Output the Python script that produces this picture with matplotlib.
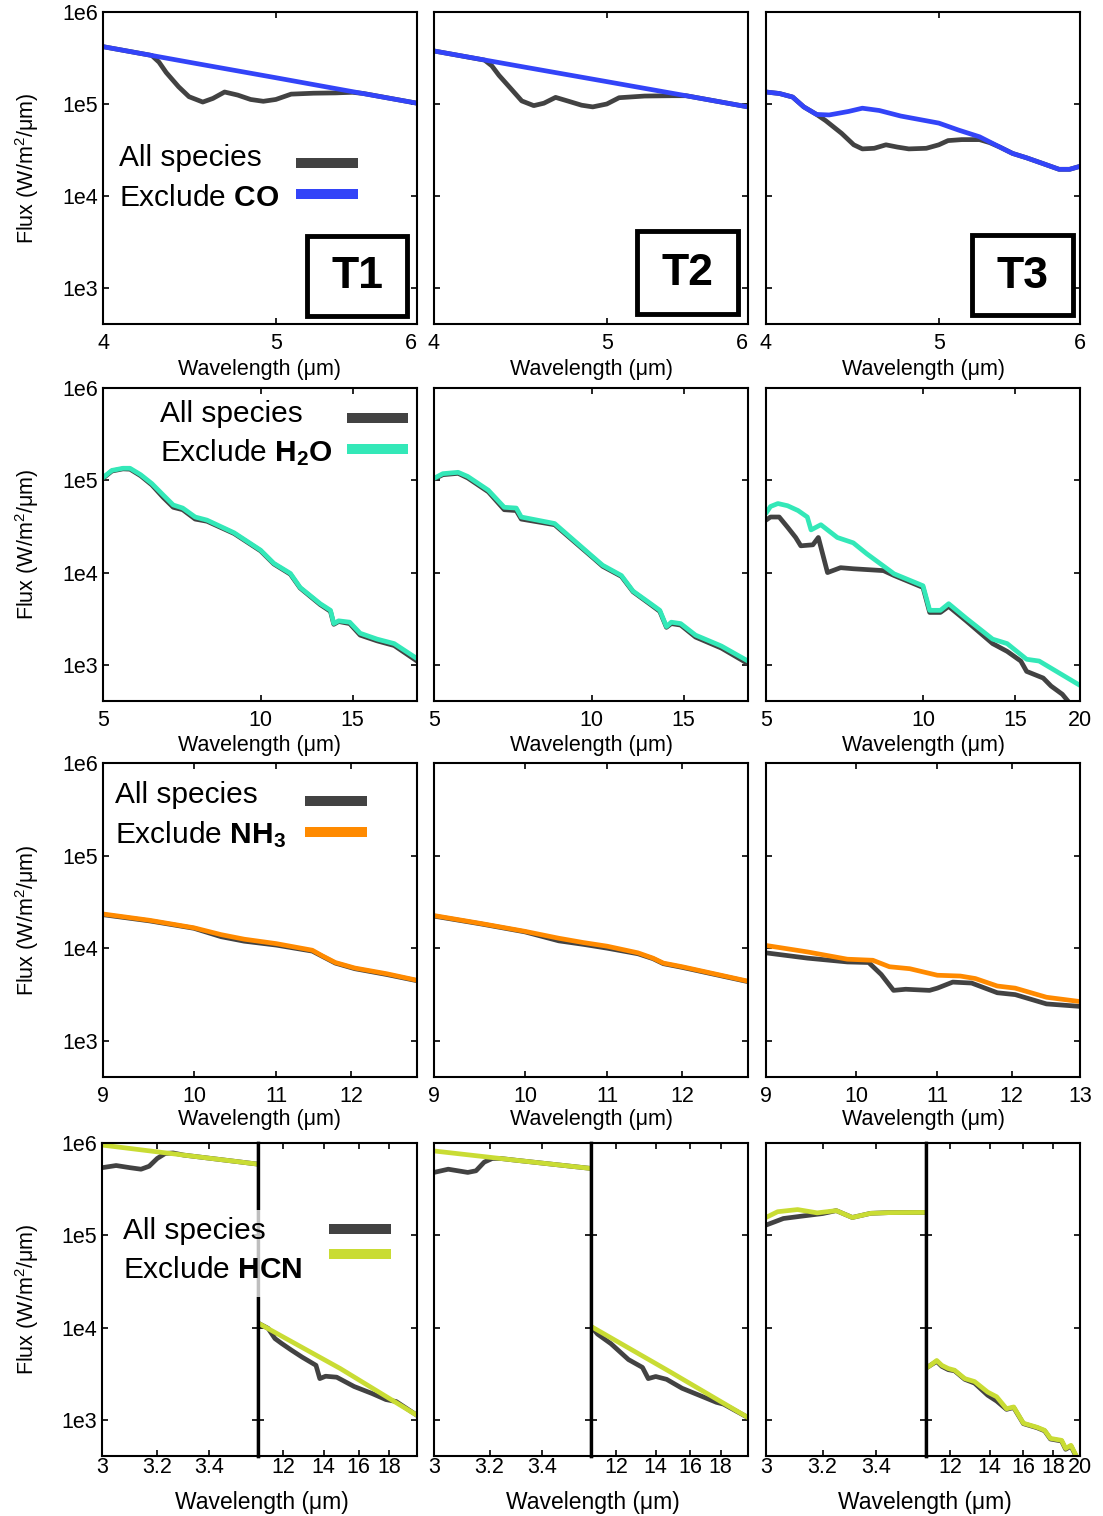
import matplotlib
matplotlib.use('Agg')
import matplotlib.pyplot as plt
from matplotlib.lines import Line2D
from matplotlib.patches import Rectangle
from matplotlib.ticker import NullLocator, FixedLocator, FixedFormatter

plt.rcParams['font.family'] = ['Liberation Sans', 'DejaVu Sans']
plt.rcParams['mathtext.fontset'] = 'custom'
plt.rcParams['mathtext.rm'] = 'Liberation Sans'
plt.rcParams['mathtext.bf'] = 'Liberation Sans:bold'
plt.rcParams['mathtext.it'] = 'Liberation Sans:italic'
plt.rcParams['mathtext.sf'] = 'Liberation Sans'

# ---------------- data ----------------
panel_names = ['T1', 'T2', 'T3']
y_ticks = [1e3, 1e4, 1e5, 1e6]
y_ticklabels = ['1e3', '1e4', '1e5', '1e6']

# Row 1 : CO, 4-6 um
co_xticks = [4, 5, 6]
co_xticklabels = ['4', '5', '6']
co1_all_wl = [4.0, 4.26, 4.3, 4.34, 4.41, 4.47, 4.55, 4.61, 4.68, 4.76, 4.84, 4.92, 5.0, 5.1, 5.25, 5.4, 5.52, 5.6, 6.0]
co1_all = [4.2e5, 3.37e5, 2.85e5, 2.2e5, 1.54e5, 1.2e5, 1.05e5, 1.15e5, 1.35e5, 1.25e5, 1.12e5, 1.07e5, 1.12e5, 1.28e5, 1.31e5, 1.32e5, 1.34e5, 1.3e5, 1.02e5]
co1_ex_wl = [4.0, 4.5, 5.0, 5.5, 6.0]
co1_ex = [4.2e5, 2.78e5, 1.93e5, 1.38e5, 1.02e5]
co2_all_wl = [4.0, 4.27, 4.31, 4.35, 4.42, 4.48, 4.55, 4.61, 4.68, 4.76, 4.84, 4.91, 5.0, 5.08, 5.25, 5.44, 5.54, 6.0]
co2_all = [3.77e5, 3.0e5, 2.6e5, 2.05e5, 1.45e5, 1.08e5, 9.6e4, 1.02e5, 1.18e5, 1.07e5, 9.7e4, 9.3e4, 1.0e5, 1.17e5, 1.22e5, 1.23e5, 1.23e5, 9.3e4]
co2_ex_wl = [4.0, 4.5, 5.0, 5.5, 6.0]
co2_ex = [3.77e5, 2.51e5, 1.75e5, 1.26e5, 9.3e4]
co3_all_wl = [4.0, 4.07, 4.14, 4.2, 4.27, 4.32, 4.41, 4.48, 4.53, 4.6, 4.67, 4.74, 4.81, 4.92, 5.0, 5.06, 5.15, 5.27, 5.34, 5.41, 5.5, 5.6, 5.72, 5.84, 5.92, 6.0]
co3_all = [1.35e5, 1.3e5, 1.19e5, 9.3e4, 7.7e4, 6.6e4, 4.8e4, 3.6e4, 3.25e4, 3.3e4, 3.6e4, 3.4e4, 3.25e4, 3.3e4, 3.6e4, 4.0e4, 4.1e4, 4.1e4, 3.8e4, 3.4e4, 2.9e4, 2.6e4, 2.25e4, 1.95e4, 1.95e4, 2.1e4]
co3_ex_wl = [4.0, 4.07, 4.14, 4.2, 4.27, 4.34, 4.45, 4.53, 4.63, 4.76, 5.0, 5.13, 5.27, 5.41, 5.5, 5.6, 5.72, 5.84, 5.92, 6.0]
co3_ex = [1.35e5, 1.3e5, 1.19e5, 9.3e4, 7.7e4, 7.6e4, 8.3e4, 9.0e4, 8.5e4, 7.4e4, 6.2e4, 5.2e4, 4.4e4, 3.4e4, 2.9e4, 2.6e4, 2.25e4, 1.95e4, 1.95e4, 2.1e4]

# Row 2 : H2O, 5-20 um
h2o_xticks_12 = [5, 10, 15]
h2o_xticklabels_12 = ['5', '10', '15']
h2o_xticks_3 = [5, 10, 15, 20]
h2o_xticklabels_3 = ['5', '10', '15', '20']
h2o1_wl = [5.0, 5.2, 5.46, 5.63, 5.9, 6.2, 6.52, 6.81, 7.1, 7.5, 7.9, 8.9, 10.0, 10.6, 11.4, 11.9, 13.0, 13.6, 13.8, 14.1, 14.8, 15.5, 16.7, 18.0, 19.9]
h2o1_ex = [1.07e5, 1.28e5, 1.35e5, 1.35e5, 1.15e5, 9.2e4, 6.9e4, 5.4e4, 5.0e4, 4.0e4, 3.7e4, 2.7e4, 1.75e4, 1.26e4, 9.8e3, 6.9e3, 4.6e3, 3.9e3, 2.8e3, 3.0e3, 2.9e3, 2.2e3, 1.9e3, 1.7e3, 1.17e3]
h2o1_all = [1.05e5, 1.26e5, 1.33e5, 1.32e5, 1.12e5, 8.9e4, 6.5e4, 5.1e4, 4.8e4, 3.8e4, 3.6e4, 2.65e4, 1.72e4, 1.24e4, 9.6e3, 6.8e3, 4.5e3, 3.8e3, 2.75e3, 2.95e3, 2.8e3, 2.1e3, 1.82e3, 1.62e3, 1.1e3]
h2o2_wl = [5.0, 5.2, 5.56, 5.8, 6.35, 6.81, 7.18, 7.34, 8.5, 10.1, 10.5, 11.4, 12.0, 12.9, 13.5, 13.9, 14.2, 14.8, 15.8, 17.7, 19.9]
h2o2_ex = [1.05e5, 1.18e5, 1.22e5, 1.1e5, 7.8e4, 5.1e4, 5.0e4, 4.0e4, 3.4e4, 1.45e4, 1.2e4, 9.3e3, 6.3e3, 4.7e3, 3.9e3, 2.6e3, 2.9e3, 2.8e3, 2.1e3, 1.6e3, 1.1e3]
h2o2_all = [1.03e5, 1.15e5, 1.19e5, 1.06e5, 7.5e4, 4.8e4, 4.7e4, 3.8e4, 3.3e4, 1.42e4, 1.17e4, 9.1e3, 6.2e3, 4.6e3, 3.8e3, 2.55e3, 2.8e3, 2.7e3, 2.0e3, 1.52e3, 1.03e3]
h2o3_ex_wl = [5.0, 5.1, 5.27, 5.5, 5.76, 6.0, 6.1, 6.37, 6.85, 7.35, 7.8, 8.8, 10.0, 10.3, 10.8, 11.2, 12.1, 13.6, 14.5, 15.8, 16.7, 19.7, 20.0]
h2o3_ex = [4.4e4, 5.2e4, 5.6e4, 5.3e4, 4.7e4, 4.0e4, 2.9e4, 3.3e4, 2.4e4, 2.1e4, 1.6e4, 9.7e3, 7.2e3, 3.9e3, 3.9e3, 4.6e3, 3.2e3, 1.9e3, 1.7e3, 1.15e3, 1.1e3, 630, 600]
h2o3_all_wl = [5.0, 5.1, 5.3, 5.5, 5.7, 5.83, 6.15, 6.3, 6.56, 6.95, 7.35, 8.4, 8.8, 10.0, 10.3, 10.8, 11.2, 12.1, 13.6, 14.5, 15.4, 15.8, 17.0, 17.6, 18.5, 19.0, 19.2]
h2o3_all = [3.7e4, 4.0e4, 4.0e4, 3.1e4, 2.4e4, 1.95e4, 2.0e4, 2.4e4, 1.0e4, 1.13e4, 1.1e4, 1.05e4, 9.3e3, 6.9e3, 3.7e3, 3.7e3, 4.3e3, 3.0e3, 1.7e3, 1.4e3, 1.1e3, 850, 720, 590, 480, 400, 350]

# Row 3 : NH3, 9-13 um
nh3_xticks_12 = [9, 10, 11, 12]
nh3_xticklabels_12 = ['9', '10', '11', '12']
nh3_xticks_3 = [9, 10, 11, 12, 13]
nh3_xticklabels_3 = ['9', '10', '11', '12', '13']
nh31_wl = [9.0, 9.5, 10.0, 10.32, 10.6, 11.0, 11.47, 11.6, 11.78, 12.05, 12.5, 12.95]
nh31_ex = [2.34e4, 2.0e4, 1.66e4, 1.4e4, 1.25e4, 1.12e4, 9.5e3, 8.3e3, 7.0e3, 6.1e3, 5.3e3, 4.5e3]
nh31_all = [2.3e4, 1.97e4, 1.64e4, 1.33e4, 1.19e4, 1.08e4, 9.3e3, 8.2e3, 6.9e3, 6.0e3, 5.2e3, 4.45e3]
nh32_wl = [9.0, 9.5, 10.0, 10.4, 10.7, 11.0, 11.4, 11.6, 11.74, 12.0, 12.95]
nh32_ex = [2.25e4, 1.85e4, 1.52e4, 1.28e4, 1.15e4, 1.05e4, 8.9e3, 7.8e3, 6.9e3, 6.3e3, 4.4e3]
nh32_all = [2.22e4, 1.83e4, 1.5e4, 1.2e4, 1.1e4, 1.0e4, 8.7e3, 7.7e3, 6.8e3, 6.2e3, 4.35e3]
nh33_ex_wl = [9.0, 9.45, 9.9, 10.2, 10.4, 10.65, 11.0, 11.3, 11.5, 11.8, 12.05, 12.5, 13.0]
nh33_ex = [1.07e4, 9.1e3, 7.6e3, 7.4e3, 6.3e3, 6.0e3, 5.1e3, 5.0e3, 4.7e3, 3.9e3, 3.7e3, 2.95e3, 2.65e3]
nh33_all_wl = [9.0, 9.45, 9.9, 10.15, 10.3, 10.45, 10.6, 10.9, 11.0, 11.2, 11.45, 11.8, 12.05, 12.5, 13.0]
nh33_all = [8.9e3, 7.8e3, 7.1e3, 7.0e3, 5.2e3, 3.5e3, 3.6e3, 3.5e3, 3.7e3, 4.3e3, 4.2e3, 3.3e3, 3.15e3, 2.5e3, 2.35e3]

# Row 4 : HCN, broken axis 3-3.6 um | 11-20 um
hcn_left_xticks = [3.0, 3.2, 3.4]
hcn_left_xticklabels = ['3', '3.2', '3.4']
hcn_right_xticks_12 = [12, 14, 16, 18]
hcn_right_xticklabels_12 = ['12', '14', '16', '18']
hcn_right_xticks_3 = [12, 14, 16, 18, 20]
hcn_right_xticklabels_3 = ['12', '14', '16', '18', '20']
hcn1_lex_wl = [3.0, 3.3, 3.6]
hcn1_lex = [9.5e5, 7.4e5, 5.9e5]
hcn1_lall_wl = [3.0, 3.05, 3.1, 3.14, 3.17, 3.2, 3.23, 3.26, 3.3, 3.6]
hcn1_lall = [5.4e5, 5.7e5, 5.4e5, 5.2e5, 5.6e5, 6.8e5, 7.7e5, 7.8e5, 7.4e5, 5.9e5]
hcn1_rex_wl = [10.9, 14.92, 20.0]
hcn1_rex = [1.12e4, 3.6e3, 1.12e3]
hcn1_rall_wl = [10.9, 11.33, 11.63, 11.94, 12.38, 12.89, 13.6, 13.8, 14.11, 14.72, 15.73, 16.85, 17.76, 18.47, 20.0]
hcn1_rall = [1.12e4, 9.8e3, 7.6e3, 6.7e3, 5.7e3, 4.8e3, 3.9e3, 2.8e3, 2.97e3, 2.9e3, 2.3e3, 1.93e3, 1.66e3, 1.58e3, 1.12e3]
hcn2_lex_wl = [3.0, 3.3, 3.6]
hcn2_lex = [8.2e5, 6.5e5, 5.3e5]
hcn2_lall_wl = [3.0, 3.05, 3.12, 3.15, 3.18, 3.21, 3.24, 3.3, 3.6]
hcn2_lall = [4.8e5, 5.2e5, 4.8e5, 5.0e5, 6.2e5, 6.8e5, 6.8e5, 6.5e5, 5.3e5]
hcn2_rex_wl = [10.9, 14.7, 20.0]
hcn2_rex = [1.03e4, 3.4e3, 1.06e3]
hcn2_rall_wl = [10.9, 11.18, 11.77, 12.6, 13.3, 13.6, 14.0, 14.6, 15.5, 16.8, 17.7, 18.2, 20.0]
hcn2_rall = [1.03e4, 8.5e3, 6.7e3, 4.5e3, 3.7e3, 2.8e3, 2.95e3, 2.75e3, 2.2e3, 1.78e3, 1.55e3, 1.48e3, 1.06e3]
hcn3_lex_wl = [3.0, 3.04, 3.11, 3.18, 3.25, 3.31, 3.38, 3.45, 3.6]
hcn3_lex = [1.56e5, 1.8e5, 1.9e5, 1.75e5, 1.85e5, 1.56e5, 1.73e5, 1.76e5, 1.77e5]
hcn3_lall_wl = [3.0, 3.03, 3.06, 3.13, 3.2, 3.25, 3.31, 3.38, 3.45, 3.6]
hcn3_lall = [1.29e5, 1.4e5, 1.52e5, 1.62e5, 1.72e5, 1.85e5, 1.56e5, 1.73e5, 1.76e5, 1.77e5]
hcn3_r_wl = [10.95, 11.09, 11.37, 11.6, 11.9, 12.2, 12.7, 13.2, 13.9, 14.4, 14.97, 15.4, 16.0, 16.9, 17.4, 17.8, 18.6, 18.9, 19.3, 19.7]
hcn3_rex = [3.7e3, 3.9e3, 4.4e3, 3.9e3, 3.6e3, 3.45e3, 2.8e3, 2.6e3, 2.0e3, 1.78e3, 1.32e3, 1.38e3, 920, 830, 770, 630, 600, 490, 530, 410]
hcn3_rall = [3.7e3, 3.9e3, 4.3e3, 3.8e3, 3.5e3, 3.4e3, 2.75e3, 2.5e3, 1.85e3, 1.6e3, 1.3e3, 1.36e3, 910, 820, 760, 620, 590, 480, 520, 400]

# ---------------- style ----------------
W, H = 1103, 1516
BLACK = '#424242'
C_CO = '#3344f8'
C_H2O = '#33e8b8'
C_NH3 = '#ff8a00'
C_HCN = '#c9dc34'
LW = 3.4
YMIN, YMAX = 406, 1e6

fig = plt.figure(figsize=(W / 100, H / 100), dpi=100)

cols = [(103, 417), (434, 748), (766, 1080)]
rows = [(12, 324), (388, 701), (763, 1077), (1143, 1456)]
breaks = [258, 591, 926]


def add_ax(l, t, r, b):
    return fig.add_axes([l / W, 1 - b / H, (r - l) / W, (b - t) / H])


def style(ax, xlim, xticks, xlabels, ylabels, xpad=6.5):
    ax.set_xscale('log')
    ax.set_yscale('log')
    ax.set_xlim(*xlim)
    ax.set_ylim(YMIN, YMAX)
    ax.xaxis.set_major_locator(FixedLocator(xticks))
    ax.xaxis.set_major_formatter(FixedFormatter(xlabels))
    ax.xaxis.set_minor_locator(NullLocator())
    ax.yaxis.set_major_locator(FixedLocator(y_ticks))
    ax.yaxis.set_major_formatter(FixedFormatter(y_ticklabels if ylabels else [''] * 4))
    ax.yaxis.set_minor_locator(NullLocator())
    ax.tick_params(which='major', direction='in', top=True, right=True,
                   length=4.5, width=1.2, labelsize=15.5, colors='black')
    ax.tick_params(axis='x', pad=xpad)
    ax.tick_params(axis='y', pad=3.5)
    for s in ax.spines.values():
        s.set_linewidth(1.5)


def draw(ax, w, f, color):
    ax.plot(w, f, color=color, lw=LW, solid_joinstyle='round', solid_capstyle='round')


def fig_text(x, y, s, **kw):
    return fig.text(x / W, 1 - y / H, s, **kw)


def handle(x1, x2, y, color):
    fig.add_artist(Line2D([x1 / W, x2 / W], [1 - y / H, 1 - y / H], color=color,
                          lw=7.2, solid_capstyle='butt', transform=fig.transFigure))


ylabel = 'Flux (W/m$^2$/\u03bcm)'
xlabel = 'Wavelength (\u03bcm)'

# ---- Row 1: CO ----
co_sets = [(co1_all_wl, co1_all, co1_ex_wl, co1_ex),
           (co2_all_wl, co2_all, co2_ex_wl, co2_ex),
           (co3_all_wl, co3_all, co3_ex_wl, co3_ex)]
for j, (wa, fa, we, fe) in enumerate(co_sets):
    ax = add_ax(cols[j][0], rows[0][0], cols[j][1], rows[0][1])
    draw(ax, wa, fa, BLACK)
    draw(ax, we, fe, C_CO)
    style(ax, (4, 6), co_xticks, co_xticklabels, j == 0)
    if j < 2:
        ax.get_xticklabels()[-1].set_horizontalalignment('right')

# ---- Row 2: H2O ----
h2o_sets = [(h2o1_wl, h2o1_all, h2o1_wl, h2o1_ex),
            (h2o2_wl, h2o2_all, h2o2_wl, h2o2_ex),
            (h2o3_all_wl, h2o3_all, h2o3_ex_wl, h2o3_ex)]
for j, (wa, fa, we, fe) in enumerate(h2o_sets):
    ax = add_ax(cols[j][0], rows[1][0], cols[j][1], rows[1][1])
    draw(ax, wa, fa, BLACK)
    draw(ax, we, fe, C_H2O)
    if j < 2:
        style(ax, (5, 19.9), h2o_xticks_12, h2o_xticklabels_12, j == 0)
    else:
        style(ax, (5, 20), h2o_xticks_3, h2o_xticklabels_3, False)

# ---- Row 3: NH3 ----
nh3_sets = [(nh31_wl, nh31_all, nh31_wl, nh31_ex),
            (nh32_wl, nh32_all, nh32_wl, nh32_ex),
            (nh33_all_wl, nh33_all, nh33_ex_wl, nh33_ex)]
for j, (wa, fa, we, fe) in enumerate(nh3_sets):
    ax = add_ax(cols[j][0], rows[2][0], cols[j][1], rows[2][1])
    draw(ax, wa, fa, BLACK)
    draw(ax, we, fe, C_NH3)
    if j < 2:
        style(ax, (9, 12.95), nh3_xticks_12, nh3_xticklabels_12, j == 0)
    else:
        style(ax, (9, 13), nh3_xticks_3, nh3_xticklabels_3, False)

# ---- Row 4: HCN (broken axis) ----
hcn_sets = [(hcn1_lall_wl, hcn1_lall, hcn1_lex_wl, hcn1_lex, hcn1_rall_wl, hcn1_rall, hcn1_rex_wl, hcn1_rex),
            (hcn2_lall_wl, hcn2_lall, hcn2_lex_wl, hcn2_lex, hcn2_rall_wl, hcn2_rall, hcn2_rex_wl, hcn2_rex),
            (hcn3_lall_wl, hcn3_lall, hcn3_lex_wl, hcn3_lex, hcn3_r_wl, hcn3_rall, hcn3_r_wl, hcn3_rex)]
for j, (lwa, lfa, lwe, lfe, rwa, rfa, rwe, rfe) in enumerate(hcn_sets):
    axl = add_ax(cols[j][0] - (1 if j == 0 else 0), rows[3][0], breaks[j], rows[3][1])
    draw(axl, lwa, lfa, BLACK)
    draw(axl, lwe, lfe, C_HCN)
    style(axl, (3.0, 3.6), hcn_left_xticks, hcn_left_xticklabels, j == 0, xpad=1.0)
    axl.spines['right'].set_linewidth(2.4)
    axr = add_ax(breaks[j], rows[3][0], cols[j][1], rows[3][1])
    draw(axr, rwa, rfa, BLACK)
    draw(axr, rwe, rfe, C_HCN)
    if j < 2:
        style(axr, (10.9, 20.0), hcn_right_xticks_12, hcn_right_xticklabels_12, False, xpad=1.0)
    else:
        style(axr, (10.9, 20.0), hcn_right_xticks_3, hcn_right_xticklabels_3, False, xpad=1.0)
    axr.spines['left'].set_linewidth(2.4)

# ---- axis labels ----
for i, (t, b) in enumerate(rows):
    fig_text(27, (t + b) / 2, ylabel, rotation=90, ha='center', va='center', fontsize=15.5)
xlab_y = [369, 745, 1120]
for i, y in enumerate(xlab_y):
    for j, (l, r) in enumerate(cols):
        fig_text((l + r) / 2, y, xlabel, ha='center', va='center', fontsize=15.5)
for j, (l, r) in enumerate(cols):
    fig_text((l + r) / 2 + 2, 1502, xlabel, ha='center', va='center', fontsize=16.5)

# ---- T boxes ----
boxes = [(307, 236, 407, 316), (637, 231, 738, 314), (972, 235, 1073, 315)]
for name, (l, t, r, b) in zip(panel_names, boxes):
    fig.add_artist(Rectangle((l / W, 1 - b / H), (r - l) / W, (b - t) / H,
                             transform=fig.transFigure, facecolor='white',
                             edgecolor='black', lw=3.5))
    fig_text((l + r) / 2, (t + b) / 2 + 1, name, ha='center', va='center',
             fontsize=32, fontweight='bold')

# ---- legends ----
LFS = 21.5
# row 1
fig_text(119, 166, 'All species', fontsize=LFS, va='baseline')
fig_text(119, 206, 'Exclude $\\mathbf{CO}$', fontsize=LFS, va='baseline')
handle(296, 358, 163, BLACK)
handle(296, 358, 194, C_CO)
# row 2
fig_text(160, 422, 'All species', fontsize=LFS, va='baseline')
fig_text(160, 461, 'Exclude $\\mathbf{H_2O}$', fontsize=LFS, va='baseline')
handle(347, 408, 418, BLACK)
handle(347, 408, 449, C_H2O)
# row 3
fig_text(115, 803, 'All species', fontsize=LFS, va='baseline')
fig_text(115, 843, 'Exclude $\\mathbf{NH_3}$', fontsize=LFS, va='baseline')
handle(305, 367, 801, BLACK)
handle(305, 367, 832, C_NH3)
# row 4 (semi-transparent backdrop over the axis break)
fig.add_artist(Rectangle((252 / W, 1 - 1297 / H), 12 / W, 87 / H, transform=fig.transFigure,
                         facecolor='white', edgecolor='none', alpha=0.75))
fig_text(123, 1239, 'All species', fontsize=LFS, va='baseline')
fig_text(123, 1278, 'Exclude $\\mathbf{HCN}$', fontsize=LFS, va='baseline')
handle(329, 391, 1229, BLACK)
handle(329, 391, 1254, C_HCN)

fig.savefig('out.png', dpi=100)
